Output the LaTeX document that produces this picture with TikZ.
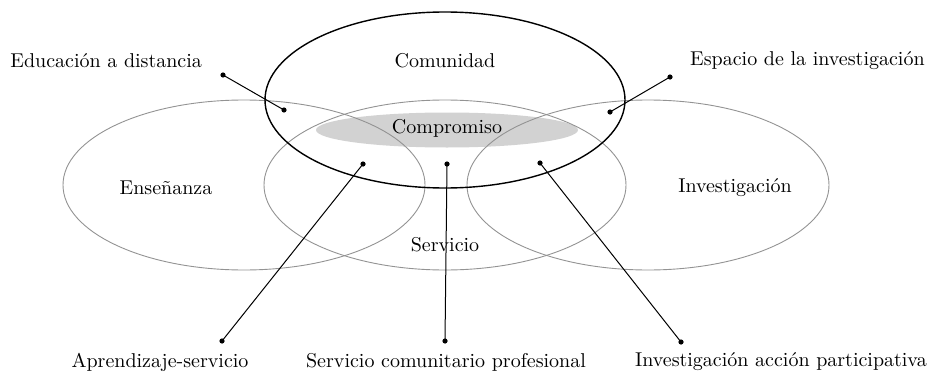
\documentclass[tikz,border=0pt]{standalone}
\usetikzlibrary{shapes.geometric}
\begin{document}
\begin{tikzpicture}[x=0.5pt,y=-0.5pt,
  ring/.style={ellipse,draw=gray!85,line width=0.45pt,inner sep=0pt,minimum width=362pt*0.5,minimum height=170pt*0.5},
  blackring/.style={ellipse,draw=black,line width=0.7pt,inner sep=0pt,minimum width=360pt*0.5,minimum height=176pt*0.5},
  lbl/.style={font=\fontsize{10}{12}\selectfont,inner sep=0pt},
  dot/.style={circle,fill=black,inner sep=0pt,minimum size=2.6pt},
  conn/.style={draw=black,line width=0.5pt}]
\useasboundingbox (0,0) rectangle (937,375);
% Compromiso fill
\node[ellipse,fill=gray!35,inner sep=0pt,minimum width=131pt,minimum height=17.5pt] (comp) at (447,130) {};
% Circles
\node[ring] (ens) at (244,185) {};
\node[ring] (serv) at (445,185) {};
\node[ring] (inv) at (648,185) {};
\node[blackring] (com) at (445,100) {};
% Texts
\node[lbl] (tcom) at (445,61) {Comunidad};
\node[lbl] (tcomp) at (447,128) {Compromiso};
\node[lbl] (tens) at (166,188) {Enseñanza};
\node[lbl] (tserv) at (445,245) {Servicio};
\node[lbl] (tinv) at (735,188) {Investigación};
\node[lbl,anchor=west] (edu) at (10,61) {Educación a distancia};
\node[lbl,anchor=east] (esp) at (925,61) {Espacio de la investigación};
\node[lbl] (apr) at (160,362) {Aprendizaje-servicio};
\node[lbl] (scp) at (446,362) {Servicio comunitario profesional};
\node[lbl] (iap) at (781,362) {Investigación acción participativa};
% Dots
\node[dot] (d1a) at (223,75) {};
\node[dot] (d1b) at (284,110) {};
\node[dot] (d2a) at (670,77) {};
\node[dot] (d2b) at (610,112) {};
\node[dot] (d3a) at (363,164) {};
\node[dot] (d3b) at (222,341) {};
\node[dot] (d4a) at (447,164) {};
\node[dot] (d4b) at (445,341) {};
\node[dot] (d5a) at (540,163) {};
\node[dot] (d5b) at (681,342) {};
% Connectors
\draw[conn] (d1a.center) -- (d1b.center);
\draw[conn] (d2a.center) -- (d2b.center);
\draw[conn] (d3a.center) -- (d3b.center);
\draw[conn] (d4a.center) -- (d4b.center);
\draw[conn] (d5a.center) -- (d5b.center);
\end{tikzpicture}
\end{document}
